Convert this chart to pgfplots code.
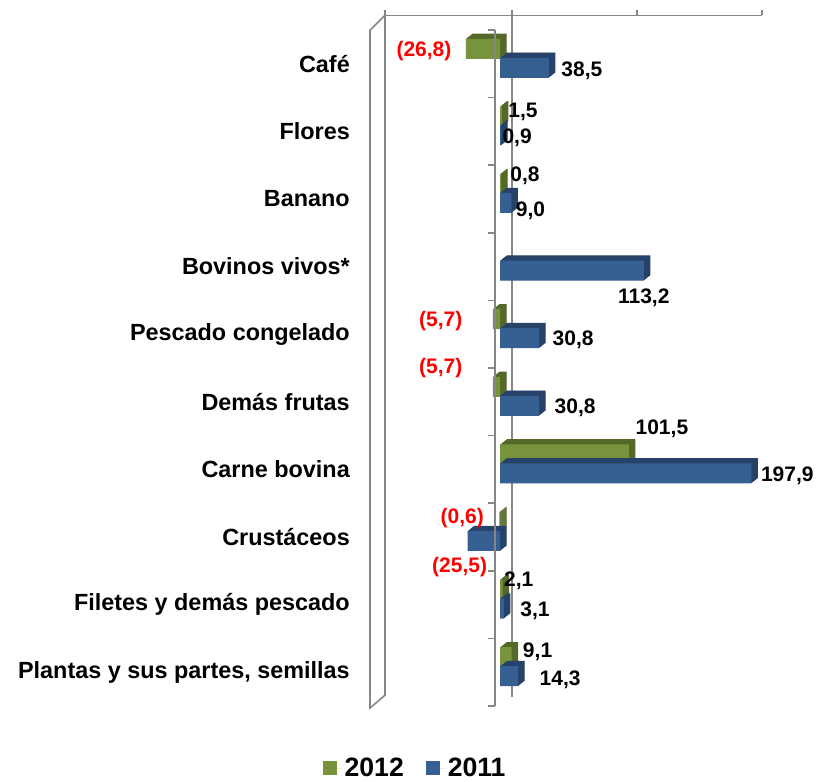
\documentclass[border=0pt]{standalone}
\usepackage{pgfplots}
\pgfplotsset{compat=1.18}
\usepackage{pgfplotstable}
\usepackage{fontspec}
\setmainfont{Liberation Sans}
\definecolor{gfront}{RGB}{119,147,60}
\definecolor{gside}{RGB}{84,104,42}
\definecolor{bfront}{RGB}{55,96,146}
\definecolor{bside}{RGB}{38,66,104}
\definecolor{wall}{RGB}{134,134,134}
\newcommand\R{\color{red}}

% 2012 (pos = category row, shifted for the bar pair)
\pgfplotstableread{
pos val lab lx ly
-0.222 -26.8 \R(26,8) -42 -2
0.778 1.5 1,5 21 4
1.778 0.8 0,8 24 8
3.778 -5.7 \R(5,7) -52 -2
4.778 -5.7 \R(5,7) -52 19
5.778 101.5 101,5 33 26
6.778 -0.6 \R(0,6) -37 4
7.778 2.1 2,1 16 9
8.778 9.1 9,1 26 5
}\dataA

% 2011
\pgfplotstableread{
pos val lab lx ly
0.059 38.5 38,5 33 -3
1.059 0.9 0,9 16 -2
2.059 9.0 9,0 19 -8
3.059 113.2 113,2 0 -27
4.059 30.8 30,8 34 -2
5.059 30.8 30,8 36 -2
6.059 197.9 197,9 36 -2
7.059 -25.5 \R(25,5) -8 -26
8.059 3.1 3,1 31 -2
9.059 14.3 14,3 42 -4
}\dataB

\pgfplotsset{
  lbl/.style={
    point meta=explicit symbolic,
    visualization depends on={\thisrow{lx}\as\lblx},
    visualization depends on={\thisrow{ly}\as\lbly},
    nodes near coords,
    every node near coord/.append style={anchor=center, xshift=\lblx pt, yshift=\lbly pt,
        font=\fontsize{21}{24}\selectfont\bfseries, text=black},
  }
}

\begin{document}
\begin{tikzpicture}
\begin{axis}[
    name=ax,
    scale only axis,
    width=392pt, height=676pt,
    xmin=-102.4, xmax=206.3,
    ymin=-0.5, ymax=9.5,
    y dir=reverse,
    clip=false,
    axis line style={draw=none},
    major tick length=0pt,
    xtick=\empty,
    ytick={0,...,9},
    yticklabels={Café,Flores,Banano,Bovinos vivos*,Pescado congelado,Demás frutas,Carne bovina,Crustáceos,Filetes y demás pescado,{Plantas y sus partes, semillas}},
    yticklabel style={font=\fontsize{23.4}{27}\selectfont\bfseries, inner sep=0pt, xshift=-20pt},
    xbar, bar width=20pt,
    legend columns=2,
    legend style={at={(axis description cs:0.115,-0.092)}, anchor=center, draw=none,
        font=\fontsize{26.6}{30}\selectfont\bfseries,
        /tikz/every even column/.append style={column sep=20pt}},
    legend image code/.code={\fill[#1] (0pt,-7pt) rectangle (14pt,7pt); \path (0pt,0pt) -- (20pt,0pt);},
]
% back wall and side wall
\draw[wall, line width=1.6pt] (axis cs:-102.4,-0.496) -- (axis cs:-102.4,9.53) -- (axis cs:-90.6,9.34) -- (axis cs:-90.6,-0.717) -- cycle;
\draw[wall, line width=1.6pt] (axis cs:-90.6,-0.717) -- (axis cs:206.3,-0.717);
\draw[wall, line width=1.6pt] (axis cs:-90.6,-0.717) -- (axis cs:-90.6,-0.79);
\draw[wall, line width=1.6pt] (axis cs:9.4,-0.79) -- (axis cs:9.4,9.37);
\draw[wall, line width=1.6pt] (axis cs:107.9,-0.717) -- (axis cs:107.9,-0.79);
\draw[wall, line width=1.6pt] (axis cs:206.3,-0.717) -- (axis cs:206.3,-0.79);

% 2012: extruded depth, then front face
\pgfplotsinvokeforeach{0.5,1,1.5,2,2.5,3,3.5,4,4.5,5,5.5,6,6.5}{
\addplot[xbar, bar shift=0pt, draw=none, fill=gside, xshift=#1pt, yshift=0.8*#1pt, forget plot]
    table[x=val, y=pos] {\dataA};
}
\addplot[xbar, bar shift=0pt, draw=none, fill=gfront, lbl]
    table[x=val, y=pos, meta=lab] {\dataA};
% 2011: extruded depth, then front face
\pgfplotsinvokeforeach{0.5,1,1.5,2,2.5,3,3.5,4,4.5,5,5.5,6,6.5}{
\addplot[xbar, bar shift=0pt, draw=none, fill=bside, xshift=#1pt, yshift=0.8*#1pt, forget plot]
    table[x=val, y=pos] {\dataB};
}
\addplot[xbar, bar shift=0pt, draw=none, fill=bfront, lbl]
    table[x=val, y=pos, meta=lab] {\dataB};
\legend{2012,2011}

% front category axis
\draw[wall, line width=1.6pt] (axis cs:-3.9,-0.5) -- (axis cs:-3.9,9.5);
\pgfplotsinvokeforeach{-0.5,0.5,1.5,2.5,3.5,4.5,5.5,6.5,7.5,8.5,9.5}{
    \draw[wall, line width=1.6pt] (axis cs:-9.4,#1) -- (axis cs:-3.9,#1);
}
\end{axis}
\pgfresetboundingbox
\useasboundingbox ([shift={(-370pt,-76pt)}]ax.south west) rectangle ++(817pt,782pt);
\end{tikzpicture}
\end{document}
